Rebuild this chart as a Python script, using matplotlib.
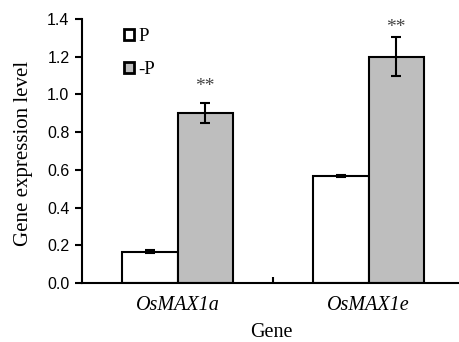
import numpy as np
import matplotlib.pyplot as plt
from matplotlib.ticker import FixedLocator

genes = ['OsMAX1a', 'OsMAX1e']
p_vals = [0.165, 0.566]
p_err = [0.008, 0.006]
np_vals = [0.90, 1.20]
np_err = [0.053, 0.103]
stars = ['**', '**']
star_y = [1.02, 1.33]

fig = plt.figure(figsize=(4.59, 3.42), dpi=100)
# axes runs slightly past the right edge of the figure, like the original
ax = fig.add_axes([82/459, (342-283)/342, (464-82)/459, (283-19)/342])

x = np.arange(len(genes))
w = 0.288
ekw = dict(ecolor='black', elinewidth=1.5, capsize=3.6, capthick=1.5)
ax.bar(x - w/2, p_vals, w, yerr=p_err, color='white', edgecolor='black',
       linewidth=1.5, error_kw=ekw, label='P', zorder=2)
ax.bar(x + w/2, np_vals, w, yerr=np_err, color='#bebebe', edgecolor='black',
       linewidth=1.5, error_kw=ekw, label='-P', zorder=2)

for i in range(len(genes)):
    ax.text(x[i] + w/2, star_y[i], stars[i], ha='center', va='baseline',
            fontsize=14, family='Liberation Serif', color='#444444')

ax.set_xlim(-0.5, 1.5)
ax.set_ylim(0, 1.4)
yt = np.arange(0, 1.41, 0.2)
ax.set_yticks(yt)
ax.set_yticklabels([f'{v:.1f}' for v in yt], family='Liberation Sans', fontsize=11.5)
ax.set_xticks(x)
ax.set_xticklabels(genes, family='Liberation Serif', style='italic', fontsize=14.5)
ax.tick_params(axis='x', which='major', length=0, pad=9)
ax.xaxis.set_minor_locator(FixedLocator([0.5]))
ax.tick_params(axis='x', which='minor', direction='in', length=4, width=1.5)
ax.tick_params(axis='y', direction='out', length=5, width=1.5, pad=4)

for s in ['top', 'right']:
    ax.spines[s].set_visible(False)
for s in ['left', 'bottom']:
    ax.spines[s].set_linewidth(1.5)

ax.set_ylabel('Gene expression level', family='Liberation Serif', fontsize=15)
ax.yaxis.set_label_coords((33-82)/382, 0.49)
ax.set_xlabel('Gene', family='Liberation Serif', fontsize=14.5)
ax.xaxis.set_label_coords((271-82)/382, -(337-283)/264)
ax.xaxis.label.set_va('baseline')

leg = ax.legend(loc='upper left', bbox_to_anchor=(0.066, 1.03), frameon=False,
                prop={'family': 'Liberation Serif', 'size': 13.5},
                handlelength=0.55, handleheight=0.55, handletextpad=0.2, labelspacing=0.85)
for h in leg.legend_handles:
    h.set_linewidth(2)

fig.savefig('out.png', dpi=100)
